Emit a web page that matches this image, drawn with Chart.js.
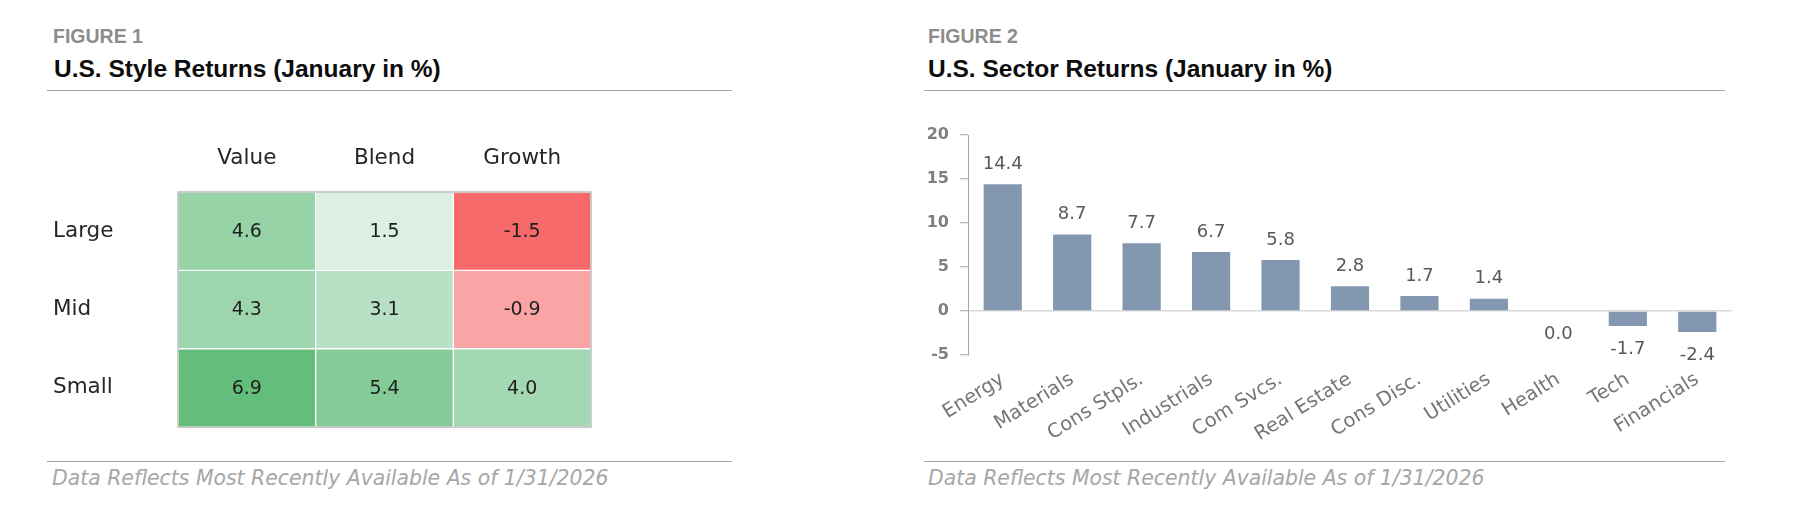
<!DOCTYPE html>
<html>
<head>
<meta charset="utf-8">
<script src="https://cdn.jsdelivr.net/npm/chart.js@4.4.1/dist/chart.umd.min.js"></script>
<style>
  html, body { margin: 0; padding: 0; background: #ffffff; }
  body { width: 1794px; height: 522px; position: relative; overflow: hidden; }
  .fig { position: absolute; font-family: "Liberation Sans", Arial, sans-serif; font-weight: bold; color: #8c8c8c; font-size: 19.5px; line-height: 1; white-space: nowrap; }
  .ttl { position: absolute; font-family: "Liberation Sans", Arial, sans-serif; font-weight: bold; color: #0d0d0d; font-size: 24.5px; line-height: 1; white-space: nowrap; }
  .rule { position: absolute; height: 0; border-top: 1.5px solid #a6a6a6; }
  .note { position: absolute; font-family: "DejaVu Sans", sans-serif; font-style: italic; color: #a6a6a6; font-size: 20.4px; line-height: 1; white-space: nowrap; }
  .box { position: absolute; }
</style>
</head>
<body>
<div class="fig" style="left:53px; top:27px;">FIGURE 1</div>
<div class="ttl" style="left:54px; top:57px;">U.S. Style Returns (January in %)</div>
<div class="rule" style="left:47px; width:685px; top:90px;"></div>
<div class="box" style="left:0px; top:100px; width:640px; height:340px;"><canvas id="heat"></canvas></div>
<div class="rule" style="left:47px; width:685px; top:461px;"></div>
<div class="note" style="left:52px; top:468px;">Data Reflects Most Recently Available As of 1/31/2026</div>

<div class="fig" style="left:928px; top:27px;">FIGURE 2</div>
<div class="ttl" style="left:928px; top:57px;">U.S. Sector Returns (January in %)</div>
<div class="rule" style="left:924px; width:801px; top:90px;"></div>
<div class="box" style="left:900px; top:100px; width:860px; height:360px;"><canvas id="bars"></canvas></div>
<div class="rule" style="left:924px; width:801px; top:461px;"></div>
<div class="note" style="left:928px; top:468px;">Data Reflects Most Recently Available As of 1/31/2026</div>

<script>
// ---------- Figure 1 data ----------
const styleRows = ['Large', 'Mid', 'Small'];
const styleCols = ['Value', 'Blend', 'Growth'];
const valueReturns  = [4.6, 4.3, 6.9];
const blendReturns  = [1.5, 3.1, 5.4];
const growthReturns = [-1.5, -0.9, 4.0];

// ---------- Figure 2 data ----------
const sectors = ['Energy', 'Materials', 'Cons Stpls.', 'Industrials', 'Com Svcs.', 'Real Estate', 'Cons Disc.', 'Utilities', 'Health', 'Tech', 'Financials'];
const sectorReturns = [14.4, 8.7, 7.7, 6.7, 5.8, 2.8, 1.7, 1.4, 0.0, -1.7, -2.4];
const sectorAxisMin = -5;
const sectorAxisMax = 20;
const sectorAxisStep = 5;

// ---------- colour scale (red - white - green, midpoint 0) ----------
const allStyle = valueReturns.concat(blendReturns, growthReturns);
const sMin = Math.min(...allStyle), sMax = Math.max(...allStyle);
const WHITE = [252, 252, 255], GREEN = [99, 190, 123], RED = [248, 105, 107];
function scaleColor(v) {
  let target, t;
  if (v >= 0) { target = GREEN; t = v / sMax; } else { target = RED; t = v / sMin; }
  const c = WHITE.map((w, i) => Math.round(w + (target[i] - w) * t));
  return `rgb(${c[0]},${c[1]},${c[2]})`;
}

const textFont = 'DejaVu Sans';

// ---------- Figure 1: heat table ----------
const cellLabelPlugin = {
  id: 'cellLabels',
  afterDatasetsDraw(chart) {
    const ctx = chart.ctx;
    const a = chart.chartArea;
    ctx.save();
    ctx.font = `19px "${textFont}"`;
    ctx.fillStyle = '#1f1f1f';
    ctx.textAlign = 'center';
    ctx.textBaseline = 'middle';
    chart.data.datasets.forEach((ds, di) => {
      chart.getDatasetMeta(di).data.forEach((el, i) => {
        const p = el.getCenterPoint();
        ctx.fillText(ds.returns[i].toFixed(1), p.x, p.y + 1);
      });
    });
    ctx.strokeStyle = '#bfbfbf';
    ctx.lineWidth = 1.5;
    ctx.strokeRect(a.left, a.top, a.right - a.left, a.bottom - a.top);
    ctx.restore();
  }
};

const heatSets = [valueReturns, blendReturns, growthReturns].map((vals, j) => ({
  label: styleCols[j],
  returns: vals,
  data: vals.map(() => 1),
  backgroundColor: vals.map(scaleColor),
  borderColor: '#ffffff',
  borderWidth: 1,
  borderSkipped: false,
  barPercentage: 1,
  categoryPercentage: 1
}));

new Chart(document.getElementById('heat'), {
  type: 'bar',
  data: { labels: styleRows, datasets: heatSets },
  options: {
    indexAxis: 'y',
    responsive: true,
    maintainAspectRatio: false,
    animation: false,
    events: [],
    layout: { padding: { left: 53, right: 49, top: 0, bottom: 10 } },
    plugins: { legend: { display: false }, tooltip: { enabled: false } },
    scales: {
      x: { type: 'linear', stacked: true, min: 0, max: styleCols.length, display: false },
      top: {
        type: 'category', position: 'top', labels: styleCols, offset: true,
        grid: { display: false, drawTicks: false }, border: { display: false },
        ticks: { color: '#262626', font: { family: textFont, size: 21.5 }, padding: 21 },
        afterFit(s) { s.height = 92; }
      },
      y: {
        type: 'category', stacked: true,
        grid: { display: false, drawTicks: false }, border: { display: false },
        ticks: { color: '#262626', font: { family: textFont, size: 21.5 }, crossAlign: 'far', padding: 0 },
        afterFit(s) { s.width = 125; }
      }
    }
  },
  plugins: [cellLabelPlugin]
});

// ---------- Figure 2: sector bars ----------
const valueLabelPlugin = {
  id: 'valueLabels',
  afterDatasetsDraw(chart) {
    const ctx = chart.ctx;
    ctx.save();
    ctx.font = `18px "${textFont}"`;
    ctx.fillStyle = '#595959';
    ctx.textAlign = 'center';
    ctx.textBaseline = 'middle';
    const ds = chart.data.datasets[0];
    chart.getDatasetMeta(0).data.forEach((el, i) => {
      const v = ds.data[i];
      const top = Math.min(el.y, el.base), bottom = Math.max(el.y, el.base);
      const y = v > 0 ? top - 20 : bottom + 23;
      ctx.fillText(v.toFixed(1), el.x, y);
    });
    ctx.restore();
  }
};

new Chart(document.getElementById('bars'), {
  type: 'bar',
  data: {
    labels: sectors,
    datasets: [{
      data: sectorReturns,
      backgroundColor: '#8497B0',
      borderWidth: 0,
      barPercentage: 0.55,
      categoryPercentage: 1
    }]
  },
  options: {
    responsive: true,
    maintainAspectRatio: false,
    animation: false,
    events: [],
    layout: { padding: { left: 0, right: 28, top: 35, bottom: 0 } },
    plugins: { legend: { display: false }, tooltip: { enabled: false } },
    scales: {
      x: {
        grid: { display: false, drawTicks: false }, border: { display: false },
        ticks: {
          color: '#767676', font: { family: textFont, size: 19.5 },
          minRotation: 32, maxRotation: 32, autoSkip: false, padding: 13
        },
        afterFit(s) { s.height = 105; }
      },
      y: {
        min: sectorAxisMin, max: sectorAxisMax,
        ticks: { stepSize: sectorAxisStep, color: '#7f7f7f', font: { family: textFont, size: 16, weight: 'bold' }, padding: 11 },
        grid: {
          color: (c) => (c.tick && c.tick.value === 0 ? '#d9d9d9' : 'rgba(0,0,0,0)'),
          lineWidth: 1.5,
          tickColor: '#a6a6a6', tickLength: 8, tickWidth: 1
        },
        border: { display: true, color: '#a6a6a6', width: 1 },
        afterFit(s) { s.width = 68; }
      }
    }
  },
  plugins: [valueLabelPlugin]
});
</script>
</body>
</html>
